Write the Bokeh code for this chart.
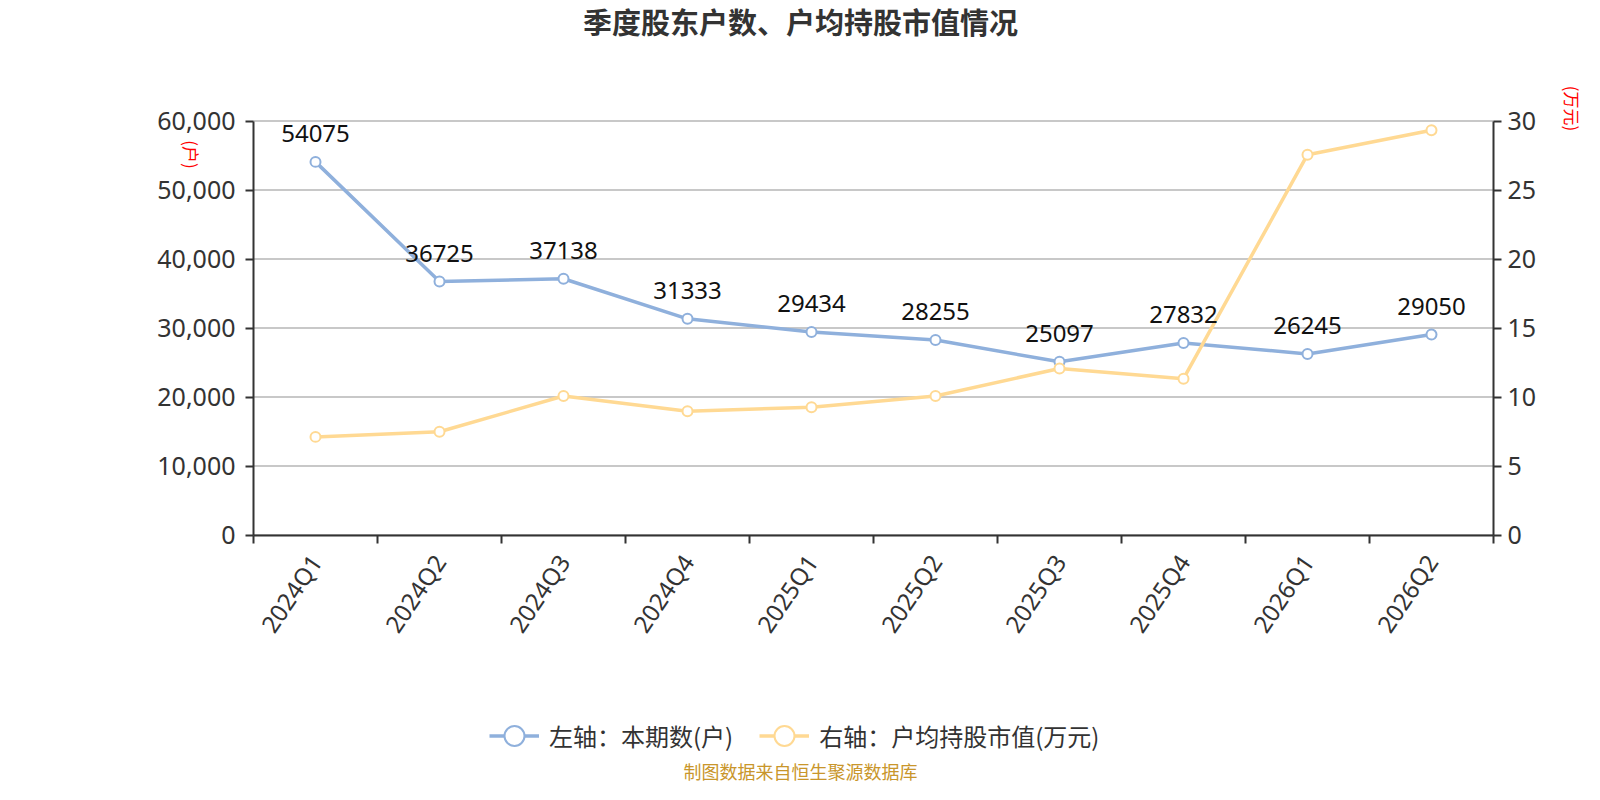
import math
from bokeh.plotting import figure
from bokeh.models import (Range1d, LinearAxis, FixedTicker,
                          NumeralTickFormatter, ColumnDataSource, LabelSet, Label,
                          Legend, LegendItem)
from bokeh.core.properties import value
from bokeh.embed import file_html
from bokeh.resources import INLINE

quarters = ["2024Q1", "2024Q2", "2024Q3", "2024Q4", "2025Q1",
            "2025Q2", "2025Q3", "2025Q4", "2026Q1", "2026Q2"]
holders = [54075, 36725, 37138, 31333, 29434, 28255, 25097, 27832, 26245, 29050]
avg_value = [7.11, 7.48, 10.07, 8.96, 9.26, 10.07, 12.07, 11.33, 27.56, 29.33]
left_ticks = [0, 10000, 20000, 30000, 40000, 50000, 60000]
right_ticks = [0, 5, 10, 15, 20, 25, 30]

BLUE = "#8fb0dc"
ORANGE = "#ffd993"
AXIS = "#333333"
CJK = "Noto Sans CJK SC"
LATIN = "Noto Sans"

# canvas / plot-area geometry (pixels)
W, H = 1584, 784
PL, PR, PT, PB = 253, 1493, 120.5, 534.5
n = len(quarters)
LMAX, RMAX = left_ticks[-1], right_ticks[-1]
xpx = (PR - PL) / n
ypx = (PB - PT) / LMAX
rpx = (PB - PT) / RMAX

xr = Range1d(-PL / xpx, n + (W - PR) / xpx)
yrng = Range1d(-(H - PB) / ypx, LMAX + PT / ypx)
rrng = Range1d(-(H - PB) / rpx, RMAX + PT / rpx)

def sx(px):  # canvas px -> x data
    return (px - PL) / xpx

def sy(py):  # canvas px -> left y data
    return (PB - py) / ypx

p = figure(width=W, height=H, output_backend="svg", toolbar_location=None,
           x_range=xr, y_range=yrng, min_border=0,
           x_axis_type=None, y_axis_type=None)
p.outline_line_color = None
p.background_fill_color = "white"
p.border_fill_color = "white"
p.extra_y_ranges = {"right": rrng}
p.xgrid.grid_line_color = None
p.ygrid.grid_line_color = None

xs = [i + 0.5 for i in range(n)]
src = ColumnDataSource(dict(x=xs, h=holders, v=avg_value,
                            lab=[str(h) for h in holders]))

# horizontal grid lines at the left-axis ticks
gsrc = ColumnDataSource(dict(x0=[0] * len(left_ticks), x1=[n] * len(left_ticks), y=left_ticks))
p.segment(x0="x0", y0="y", x1="x1", y1="y", source=gsrc, line_color="#c8c8c8", line_width=2)

# x axis
xaxis = LinearAxis(ticker=FixedTicker(ticks=xs, minor_ticks=list(range(n + 1))),
                   fixed_location=0, bounds=(0, n))
xaxis.major_label_overrides = {x: q for x, q in zip(xs, quarters)}
xaxis.major_tick_out = 0
xaxis.major_tick_in = 0
xaxis.minor_tick_out = 8
xaxis.minor_tick_in = 0
xaxis.minor_tick_line_color = AXIS
xaxis.minor_tick_line_width = 2
xaxis.axis_line_color = AXIS
xaxis.axis_line_width = 2
xaxis.major_label_orientation = math.radians(56)
xaxis.major_label_standoff = 14
xaxis.major_label_text_font = LATIN
xaxis.major_label_text_font_size = "24px"
xaxis.major_label_text_color = "#333333"
p.add_layout(xaxis, "below")

# left axis
yl = LinearAxis(ticker=FixedTicker(ticks=left_ticks), formatter=NumeralTickFormatter(format="0,0"),
                fixed_location=0, bounds=(0, LMAX))
yl.major_tick_out = 8
yl.major_tick_in = 0
yl.minor_tick_line_color = None
yl.major_tick_line_color = AXIS
yl.major_tick_line_width = 2
yl.axis_line_color = AXIS
yl.axis_line_width = 2
yl.major_label_standoff = 10
yl.major_label_text_font = LATIN
yl.major_label_text_font_size = "25px"
yl.major_label_text_color = "#333333"
p.add_layout(yl, "left")

# right axis
yr = LinearAxis(y_range_name="right", ticker=FixedTicker(ticks=right_ticks),
                fixed_location=n, bounds=(0, RMAX))
yr.major_tick_out = 8
yr.major_tick_in = 0
yr.minor_tick_line_color = None
yr.major_tick_line_color = AXIS
yr.major_tick_line_width = 2
yr.axis_line_color = AXIS
yr.axis_line_width = 2
yr.major_label_standoff = 6
yr.major_label_text_font = LATIN
yr.major_label_text_font_size = "25px"
yr.major_label_text_color = "#333333"
p.add_layout(yr, "right")

# series
bl = p.line("x", "h", source=src, line_color=BLUE, line_width=3.5)
ol = p.line("x", "v", source=src, line_color=ORANGE, line_width=3.5, y_range_name="right")
bm = p.ellipse("x", "h", width=10, height=10, width_units="screen", height_units="screen",
               source=src, fill_color="white", line_color=BLUE, line_width=2)
om = p.ellipse("x", "v", width=10, height=10, width_units="screen", height_units="screen",
               source=src, fill_color="white", line_color=ORANGE, line_width=2,
               y_range_name="right")

labels = LabelSet(x="x", y="h", text="lab", source=src, y_offset=20,
                  text_align="center", text_baseline="alphabetic",
                  text_font=value(LATIN), text_font_size="24px", text_color="#111111")
p.add_layout(labels)

# legend
leg = Legend(items=[LegendItem(label="左轴：本期数(户)", renderers=[bl, bm]),
                    LegendItem(label="右轴：户均持股市值(万元)", renderers=[ol, om])],
             orientation="horizontal", location=(489, 31),
             glyph_width=50, glyph_height=25, label_standoff=10, spacing=26,
             padding=10, border_line_color=None, background_fill_alpha=0,
             label_text_font=CJK, label_text_font_size="24px",
             label_text_color="#333333")
p.add_layout(leg, "center")

# title, unit labels, source
p.add_layout(Label(x=sx(800), y=sy(20), text="季度股东户数、户均持股市值情况",
                   text_align="center", text_baseline="middle",
                   text_font=CJK, text_font_size="29px",
                   text_font_style="bold", text_color="#333333"))
p.add_layout(Label(x=sx(191), y=sy(154), text="(户)", angle=-math.pi / 2,
                   text_align="center", text_baseline="middle",
                   text_font=CJK, text_font_size="17px", text_color="#ff0000"))
p.add_layout(Label(x=sx(1572), y=sy(108), text="(万元)", angle=-math.pi / 2,
                   text_align="center", text_baseline="middle",
                   text_font=CJK, text_font_size="17px", text_color="#ff0000"))
p.add_layout(Label(x=sx(800), y=sy(770), text="制图数据来自恒生聚源数据库",
                   text_align="center", text_baseline="middle",
                   text_font=CJK, text_font_size="18px", text_color="#c9962b"))

open("out.html", "w").write(file_html(p, INLINE))
